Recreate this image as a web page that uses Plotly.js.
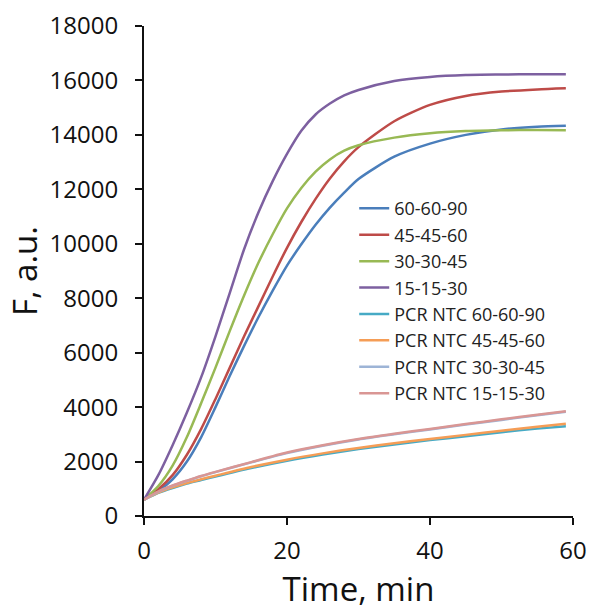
<!DOCTYPE html>
<html><head><meta charset="utf-8">
<script src="https://cdn.plot.ly/plotly-3.0.1.min.js"></script>
<style>html,body{margin:0;padding:0;background:#fff}#chart{width:605px;height:614px}</style>
</head><body><div id="chart"></div>
<script>
const timeMain = [0,2,4,6,8,10,12,14,16,18,20,22,24,26,28,30,35,40,45,50,55,59];
const s60 = [600,920,1350,2000,2900,4000,5150,6250,7300,8280,9200,9980,10700,11330,11880,12380,13200,13680,14000,14200,14300,14340];
const s45 = [600,980,1500,2250,3200,4300,5450,6600,7700,8800,9850,10800,11650,12400,13030,13550,14500,15100,15430,15590,15670,15710];
const s30 = [600,1100,1850,2900,4150,5450,6800,8100,9300,10350,11300,12050,12650,13100,13420,13620,13900,14060,14140,14170,14180,14170];
const s15 = [600,1500,2600,3800,5100,6600,8200,9800,11150,12300,13300,14150,14750,15150,15450,15650,15980,16130,16200,16220,16230,16230];
const timeNtc = [0,2,4,6,8,10,15,20,25,30,35,40,45,50,55,59];
const ntc60 = [600,850,1030,1190,1320,1450,1760,2030,2260,2460,2630,2790,2930,3080,3210,3300];
const ntc45 = [600,860,1050,1210,1350,1480,1800,2070,2300,2500,2670,2830,2980,3130,3280,3390];
const ntc30 = [600,890,1110,1290,1460,1610,1970,2310,2580,2810,3000,3180,3360,3530,3700,3830];
const ntc15 = [600,900,1120,1300,1470,1620,1980,2330,2600,2830,3020,3200,3380,3550,3720,3850];
const names = ['60-60-90','45-45-60','30-30-45','15-15-30','PCR NTC 60-60-90','PCR NTC 45-45-60','PCR NTC 30-30-45','PCR NTC 15-15-30'];
const yTicks = [0,2000,4000,6000,8000,10000,12000,14000,16000,18000];
const xTicks = [0,20,40,60];
const colors = ['#4A7EBB','#BE4B48','#98B954','#7D60A0','#46AAC5','#F59D56','#9DB4D6','#D99694'];
const ys = [s60,s45,s30,s15,ntc60,ntc45,ntc30,ntc15];
const traces = ys.map((y,i)=>({
  x: i<4 ? timeMain : timeNtc, y: y, name: names[i], type:'scatter', mode:'lines',
  line:{color:colors[i], width:2.5, shape:'spline', smoothing:0.7}
}));
const tickFont = {family:'Open Sans, sans-serif', size:24, color:'#111'};
const titleFont = {family:'Open Sans, sans-serif', size:33, color:'#111'};
const layout = {
  width:605, height:614, paper_bgcolor:'#fff', plot_bgcolor:'#fff',
  margin:{l:144, r:32, t:26, b:98},
  showlegend:true,
  legend:{x:0.49, y:0.665, xanchor:'left', yanchor:'top', bgcolor:'rgba(0,0,0,0)',
    font:{family:'Open Sans, sans-serif', size:18, color:'#222'}, itemwidth:30, tracegroupgap:0},
  xaxis:{range:[0,60], tickvals:xTicks, tickformat:'d', showgrid:false, zeroline:false,
    showline:true, linecolor:'#111', linewidth:2, ticks:'outside', ticklen:7, tickwidth:2, tickcolor:'#111',
    ticklabelstandoff:5,
    tickfont:tickFont, title:{text:'Time, min', font:titleFont, standoff:0}},
  yaxis:{range:[0,18000], tickvals:yTicks, tickformat:'d', showgrid:false, zeroline:false,
    showline:true, linecolor:'#111', linewidth:2, ticks:'outside', ticklen:7, tickwidth:2, tickcolor:'#111',
    ticklabelstandoff:12,
    tickfont:tickFont, title:{text:'F, a.u.', font:titleFont, standoff:2}}
};
Plotly.newPlot('chart', traces, layout, {displayModeBar:false, staticPlot:true});
</script></body></html>
